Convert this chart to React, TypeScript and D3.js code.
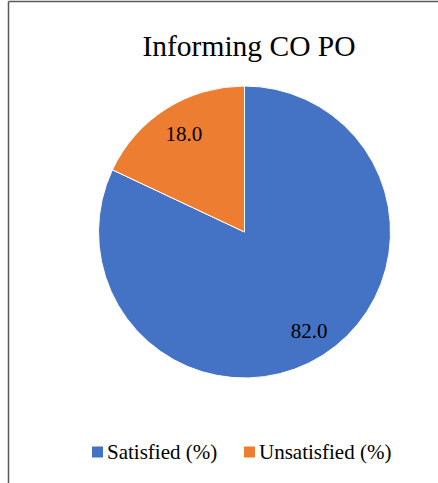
import React from "react";
import * as d3 from "d3";

const categories = ["Satisfied (%)", "Unsatisfied (%)"];
const values = [82.0, 18.0];
const colors = ["#4472C4", "#ED7D31"];
const title = "Informing CO PO";

export default function App() {
  const W = 438, H = 483;
  const cx = 244.5, cy = 232, r = 146;
  const pie = d3.pie<number>().sort(null).startAngle(0).endAngle(2 * Math.PI);
  const arcs = pie(values);
  const arc = d3.arc<d3.PieArcDatum<number>>().innerRadius(0).outerRadius(r);
  const labelArc = d3.arc<d3.PieArcDatum<number>>().innerRadius(r * 0.8).outerRadius(r * 0.8);
  const font = "Liberation Serif";
  const legendX = [92, 244];
  return (
    <svg width={W} height={H} style={{ position: "absolute", left: 0, top: 0, background: "#fff" }}>
      <rect x={0} y={0} width={W} height={H} fill="#fff" />
      <line x1={8.5} y1={1.5} x2={W} y2={1.5} stroke="#595959" strokeWidth={1.5} />
      <line x1={8.5} y1={1.5} x2={8.5} y2={H} stroke="#595959" strokeWidth={1.5} />
      <text x={249} y={56} textAnchor="middle" style={{ fontFamily: font }} fontSize={29.5} fill="#000">{title}</text>
      <g transform={`translate(${cx},${cy})`}>
        {arcs.map((a, i) => (
          <path key={i} d={arc(a) || ""} fill={colors[i]} stroke="#fff" strokeWidth={1} />
        ))}
        {arcs.map((a, i) => {
          const [x, y] = labelArc.centroid(a);
          return (
            <text key={i} x={x + 2} y={y} dy="0.35em" textAnchor="middle" style={{ fontFamily: font }} fontSize={21} fill="#000">
              {values[i].toFixed(1)}
            </text>
          );
        })}
      </g>
      {categories.map((c, i) => (
        <g key={c}>
          <rect x={legendX[i]} y={446.5} width={11} height={11} fill={colors[i]} />
          <text x={legendX[i] + 15} y={459} style={{ fontFamily: font }} fontSize={21} fill="#000">{c}</text>
        </g>
      ))}
    </svg>
  );
}
